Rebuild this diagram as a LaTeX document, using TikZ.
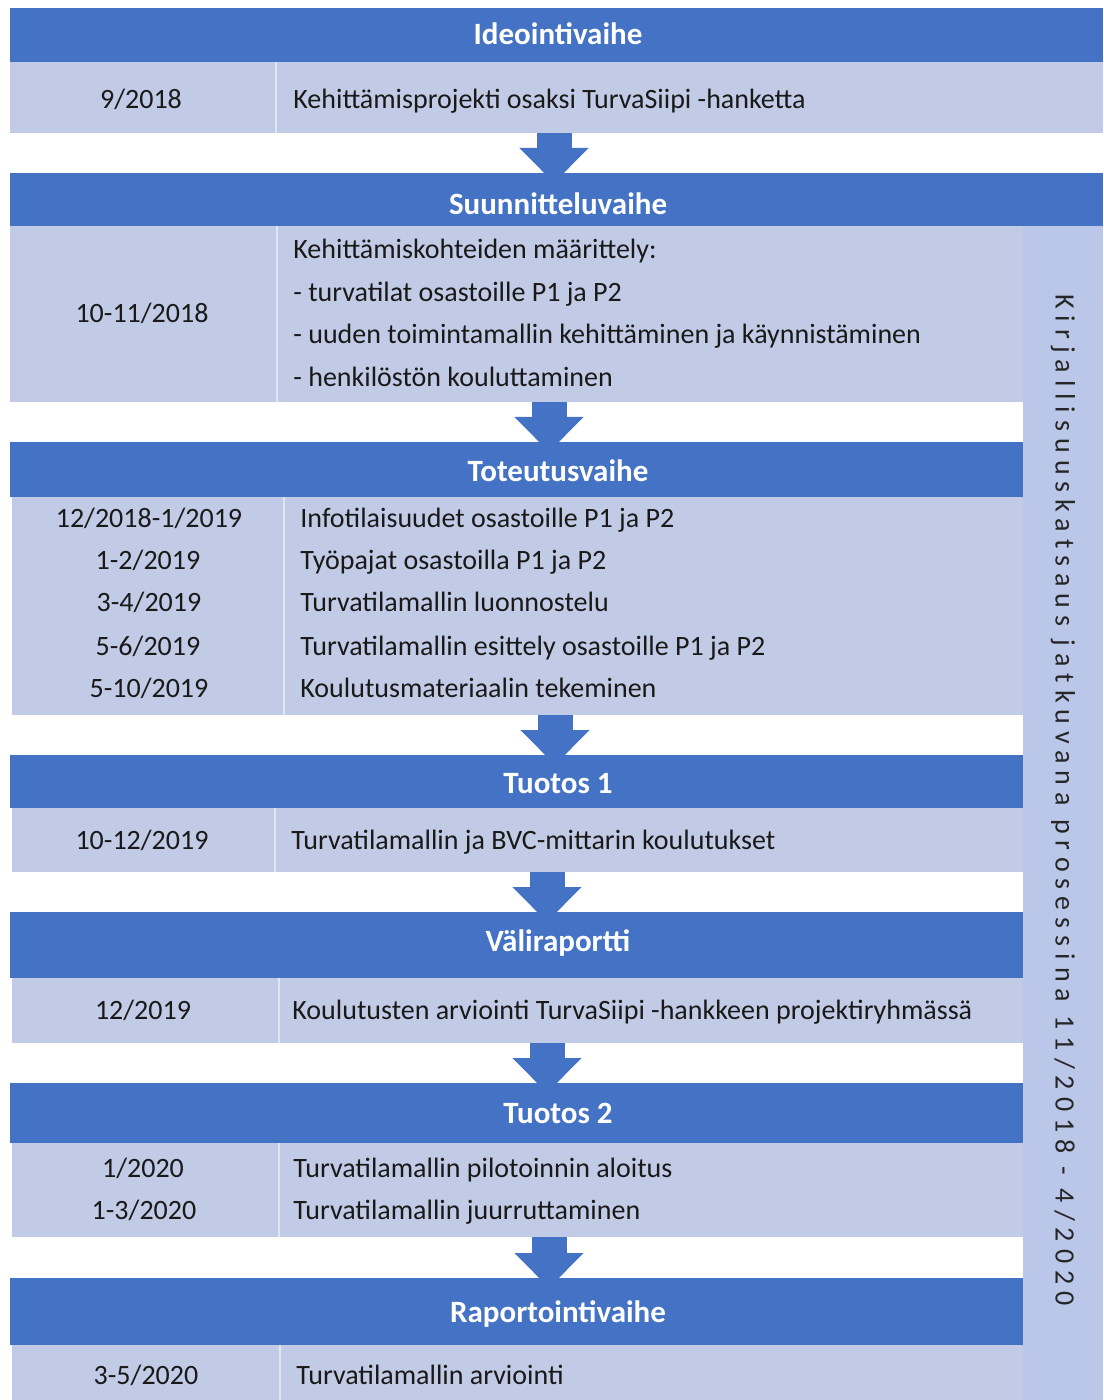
\documentclass[tikz,border=0pt]{standalone}
\usepackage{fontspec}
\setmainfont{Carlito}
\newfontfamily\sidefont[LetterSpace=25]{Carlito}
\usetikzlibrary{arrows.meta}
\definecolor{hdrblue}{HTML}{4472C4}
\definecolor{rowblue}{HTML}{C2CBE6}
\definecolor{sideblue}{HTML}{BBC7E8}
\tikzset{
  hdr/.style={text=white, inner sep=0pt, anchor=mid, yshift=-2pt, font=\bfseries\fontsize{15.5}{18}\selectfont},
  datum/.style={text=black!90, inner sep=0pt, anchor=mid, yshift=-2.2pt, font=\fontsize{14}{17}\selectfont},
  task/.style={datum, anchor=mid west},
  blockarrow/.style={draw=hdrblue, line width=17.5pt, -{Triangle[length=17.5pt, width=33.5pt]}},
}
\begin{document}
\begin{tikzpicture}[x=0.5pt, y=-0.5pt]
  \useasboundingbox (0,0) rectangle (1103,1400);
  % side column
  \fill[sideblue] (1023,226) rectangle (1103,1400);
  \node[rotate=-90, inner sep=0pt, text=black!85, font=\sidefont\fontsize{14}{16}\selectfont] (K) at (1063,800)
    {Kirjallisuuskatsaus jatkuvana prosessina 11/2018 - 4/2020};
  % phase headers
  \foreach \xr/\yt/\yb in {1103/8/62, 1103/173/226, 1023/442/497, 1023/755/808,
      1023/912/978, 1023/1083/1143, 1023/1278/1345}{
    \fill[hdrblue] (10,\yt) rectangle (\xr,\yb);
  }
  \foreach \i/\y/\t in {1/36/Ideointivaihe, 2/206/Suunnitteluvaihe, 3/473/Toteutusvaihe,
      4/785/Tuotos 1, 5/943/Väliraportti, 6/1115/Tuotos 2, 7/1314/Raportointivaihe}{
    \node[hdr] (H\i) at (558,\y) {\t};
  }
  % table rows
  \foreach \i/\xl/\xr/\yt/\yb/\xd in {1/10/1103/62/133/276, 2/10/1023/226/402/277, 3/12/1023/497/715/284,
      4/12/1023/808/872/275, 5/12/1023/978/1043/279, 6/12/1023/1143/1237/279, 7/12/1023/1345/1400/280}{
    \fill[rowblue] (\xl,\yt) rectangle (\xr,\yb);
    \draw[white, opacity=.5, line width=1pt] (\xd,\yt) -- (\xd,\yb);
  }
  % dates
  \foreach \n/\x/\y/\t in {1/141/99/{9/2018}, 2/142/313/{10-11/2018},
      3a/149/518/{12/2018-1/2019}, 3b/148/560/{1-2/2019}, 3c/149/602/{3-4/2019},
      3d/148/646/{5-6/2019}, 3e/149/688/{5-10/2019}, 4/142/840/{10-12/2019},
      5/143/1010/{12/2019}, 6a/143/1168/{1/2020}, 6b/144/1210/{1-3/2020}, 7/146/1375/{3-5/2020}}{
    \node[datum] (D\n) at (\x,\y) {\t};
  }
  % tasks
  \foreach \n/\x/\y/\t in {1/293/99/{Kehittämisprojekti osaksi TurvaSiipi -hanketta},
      2a/293/249/{Kehittämiskohteiden määrittely:},
      2b/293/292/{- turvatilat osastoille P1 ja P2},
      2c/293/334/{- uuden toimintamallin kehittäminen ja käynnistäminen},
      2d/293/377/{- henkilöstön kouluttaminen},
      3a/300/518/{Infotilaisuudet osastoille P1 ja P2},
      3b/300/560/{Työpajat osastoilla P1 ja P2},
      3c/300/602/{Turvatilamallin luonnostelu},
      3d/300/646/{Turvatilamallin esittely osastoille P1 ja P2},
      3e/300/688/{Koulutusmateriaalin tekeminen},
      4/291/840/{Turvatilamallin ja BVC-mittarin koulutukset},
      5/292/1010/{Koulutusten arviointi TurvaSiipi -hankkeen projektiryhmässä},
      6a/293/1168/{Turvatilamallin pilotoinnin aloitus},
      6b/293/1210/{Turvatilamallin juurruttaminen},
      7/296/1375/{Turvatilamallin arviointi}}{
    \node[task] (T\n) at (\x,\y) {\t};
  }
  % arrows between phases
  \foreach \i/\x/\ya/\yb in {1/554/133/183, 2/549/402/452, 3/555/715/765,
      4/547/872/922, 5/547/1043/1093, 6/549/1237/1288}{
    \coordinate (A\i) at (\x,\ya);
    \coordinate (B\i) at (\x,\yb);
    \draw[blockarrow] (A\i) -- (B\i);
  }
\end{tikzpicture}
\end{document}
